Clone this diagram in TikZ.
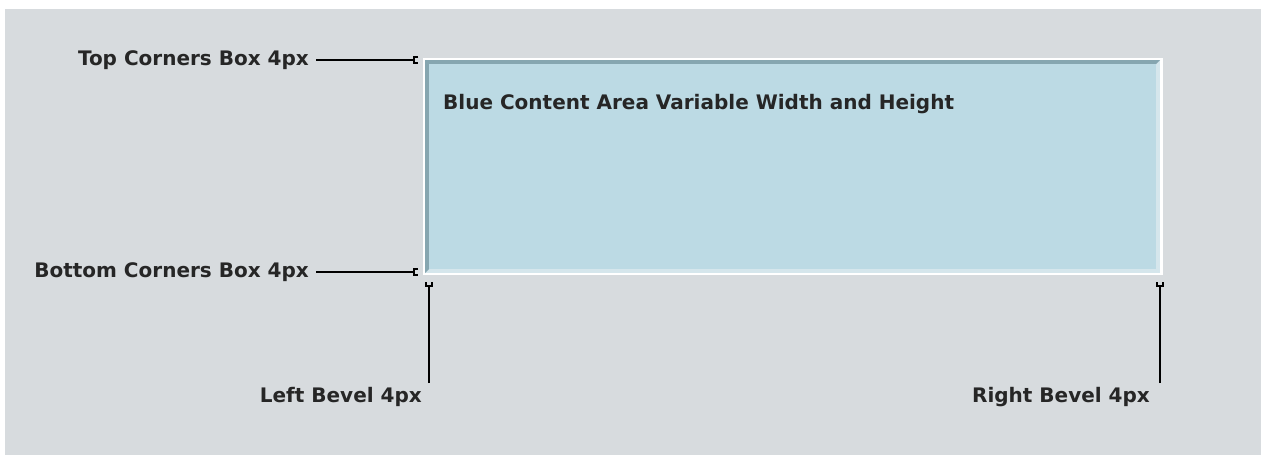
\documentclass[tikz,border=0pt]{standalone}
\usepackage{fontspec}
\setmainfont{DejaVu Sans}
\usetikzlibrary{arrows.meta}

\definecolor{panelgray}{HTML}{D7DBDE}
\definecolor{areablue}{HTML}{BCDAE4}
\definecolor{bevelDark}{HTML}{86A6B0}
\definecolor{bevelLight}{HTML}{D5E6EC}

\tikzset{
  note/.style={font=\fontsize{20}{23}\selectfont\bfseries, text=black!85, inner sep=0pt},
  pointer/.style={line width=1.8pt, -{Bracket[reversed,width=8pt,length=4pt,line width=1.8pt]}},
}

\begin{document}
\begin{tikzpicture}[x=1pt,y=-1pt]
    % Panel background
    \useasboundingbox (0,0) rectangle (1261,455);
    \fill[panelgray] (5,9) rectangle (1261,455);

    % Content box with its bevels
    \fill[white] (423,58) rectangle (1163,275);
    \fill[bevelLight] (425,60) rectangle (1160,273);
    \fill[bevelDark] (425,60) -- (1160,60) -- (1156,64) -- (429,64) -- (429,269) -- (425,273) -- cycle;
    \fill[areablue] (429,64) rectangle (1156,269);
    \node[note, anchor=west] (title) at (443,104) {Blue Content Area Variable Width and Height};

    % Labels
    \node[note, anchor=east] (topcorners) at (309,60) {Top Corners Box 4px};
    \node[note, anchor=east] (botcorners) at (309,272) {Bottom Corners Box 4px};
    \node[note, anchor=east] (leftbevel) at (422,397) {Left Bevel 4px};
    \node[note, anchor=east] (rightbevel) at (1150,397) {Right Bevel 4px};

    % Pointer ends at the box
    \coordinate (topend) at (418,60);
    \coordinate (botend) at (418,272);
    \coordinate (leftend) at (429,282);
    \coordinate (rightend) at (1160,282);

    % Pointers
    \draw[pointer] ([xshift=7pt]topcorners.east) -- (topend);
    \draw[pointer] ([xshift=7pt]botcorners.east) -- (botend);
    \draw[pointer] (leftend |- leftbevel.north) ++(0,-4) -- (leftend);
    \draw[pointer] (rightend |- rightbevel.north) ++(0,-4) -- (rightend);
\end{tikzpicture}
\end{document}
